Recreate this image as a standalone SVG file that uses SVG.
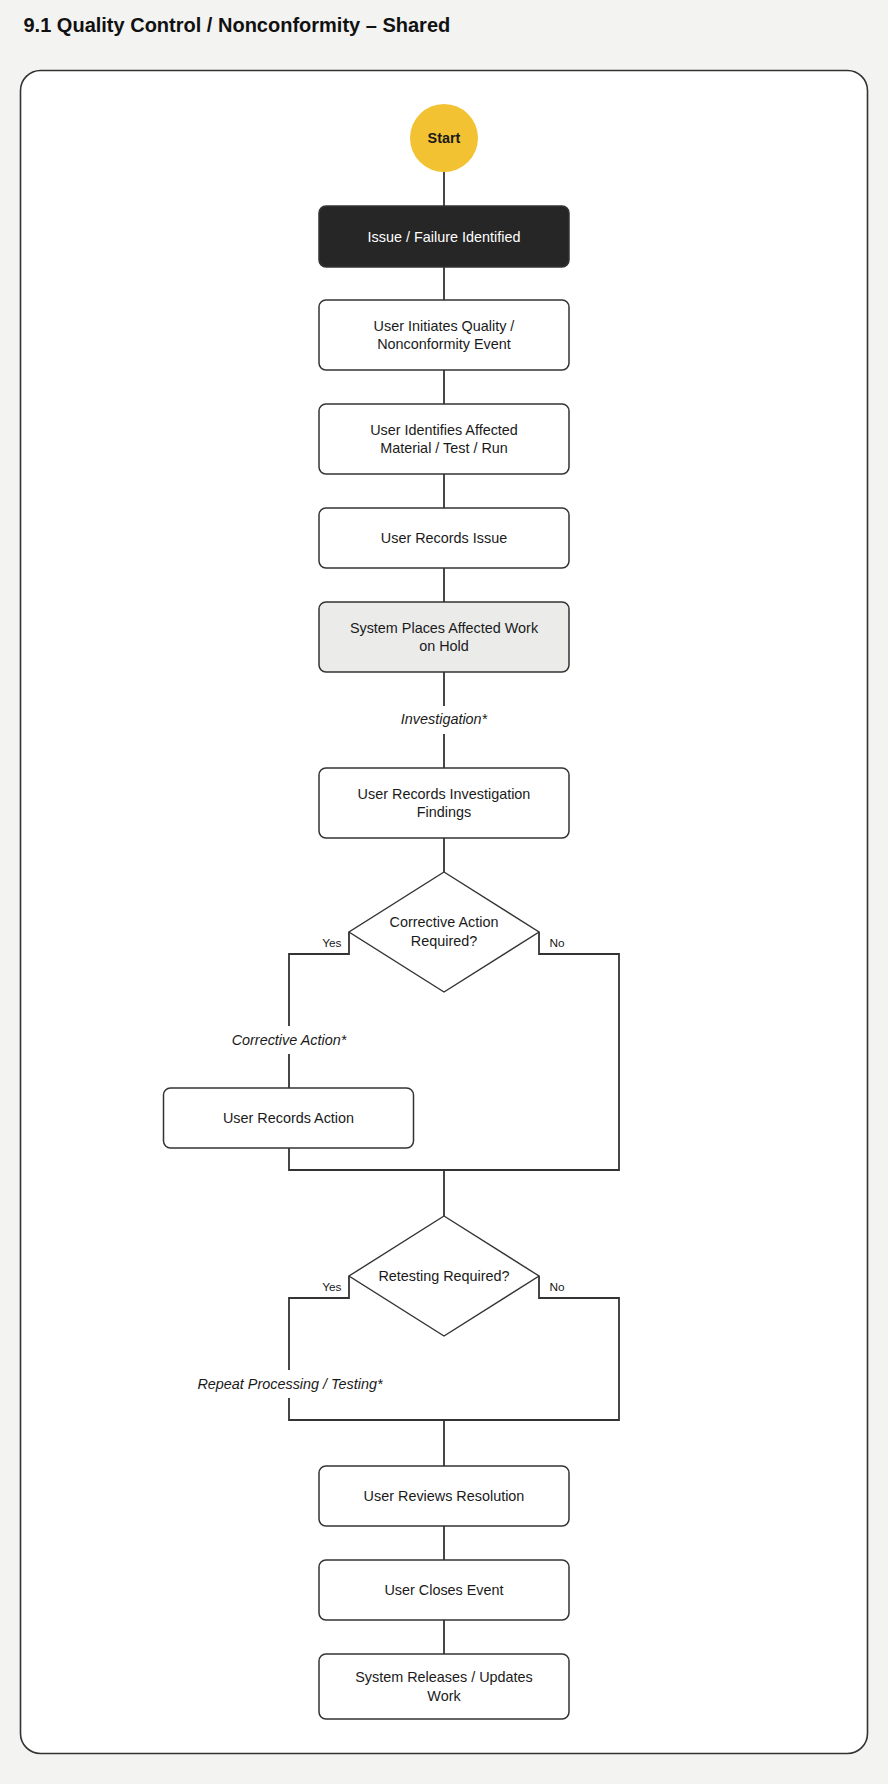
<svg xmlns="http://www.w3.org/2000/svg" width="888" height="1784" viewBox="0 0 888 1784">
<style>
.bg{fill:#f3f3f1}
.frame{fill:#ffffff;stroke:#333333;stroke-width:1.6}
.box{fill:#ffffff;stroke:#333333;stroke-width:1.5}
.dark{fill:#262626;stroke:#333333;stroke-width:1.5}
.gray{fill:#ebebea;stroke:#333333;stroke-width:1.5}
.dia{fill:#ffffff;stroke:#333333;stroke-width:1.4}
.start{fill:#f2c232}
.t{font-family:"Liberation Sans",Arial,Helvetica,sans-serif;font-size:14.4px;fill:#1a1a1a;text-anchor:middle}
.tw{fill:#ffffff}
.tb{font-weight:bold}
.it{font-style:italic}
.sm{font-family:"Liberation Sans",Arial,Helvetica,sans-serif;font-size:11.8px;fill:#1a1a1a}
.title{font-family:"Liberation Sans",Arial,Helvetica,sans-serif;font-size:20px;font-weight:bold;fill:#111111}
.c{fill:none;stroke:#333333;stroke-width:1.8}
</style>
<rect class="bg" x="0" y="0" width="888" height="1784"/>
<text class="title" x="23.5" y="32">9.1 Quality Control / Nonconformity – Shared</text>
<rect class="frame" x="20.5" y="70.5" width="847" height="1683" rx="20"/>

<g id="connectors">
<path class="c" d="M444,172 V206"/>
<path class="c" d="M444,267 V300"/>
<path class="c" d="M444,370 V404"/>
<path class="c" d="M444,474 V508"/>
<path class="c" d="M444,568 V602"/>
<path class="c" d="M444,672 V706"/>
<path class="c" d="M444,734 V768"/>
<path class="c" d="M444,838 V872"/>
<path class="c" d="M349,932 V954 H289 V1026"/>
<path class="c" d="M289,1054 V1088"/>
<path class="c" d="M289,1148 V1170 H619 V954 H539 V932"/>
<path class="c" d="M444,1170 V1216"/>
<path class="c" d="M349,1276 V1298 H289 V1370"/>
<path class="c" d="M289,1398 V1420 H619 V1298 H539 V1276"/>
<path class="c" d="M444,1420 V1466"/>
<path class="c" d="M444,1526 V1560"/>
<path class="c" d="M444,1620 V1654"/>
<text class="t it" x="444" y="724">Investigation*</text>
<text class="t it" x="289" y="1044.5">Corrective Action*</text>
<text class="t it" x="290" y="1388.5">Repeat Processing / Testing*</text>
<text class="sm" x="341.5" y="946.5" text-anchor="end">Yes</text>
<text class="sm" x="549.5" y="946.5">No</text>
<text class="sm" x="341.5" y="1290.5" text-anchor="end">Yes</text>
<text class="sm" x="549.5" y="1290.5">No</text>
</g>

<g id="start">
<circle class="start" cx="444" cy="138" r="34"/>
<text class="t tb" x="444" y="143">Start</text>
</g>
<g id="issue-identified">
<rect class="dark" x="319" y="206" width="250" height="61" rx="7"/>
<text class="t tw" x="444" y="241.5">Issue / Failure Identified</text>
</g>
<g id="initiates-event">
<rect class="box" x="319" y="300" width="250" height="70" rx="7"/>
<text class="t" x="444" y="330.8">User Initiates Quality /</text>
<text class="t" x="444" y="349.2">Nonconformity Event</text>
</g>
<g id="identifies-affected">
<rect class="box" x="319" y="404" width="250" height="70" rx="7"/>
<text class="t" x="444" y="434.8">User Identifies Affected</text>
<text class="t" x="444" y="453.2">Material / Test / Run</text>
</g>
<g id="records-issue">
<rect class="box" x="319" y="508" width="250" height="60" rx="7"/>
<text class="t" x="444" y="543">User Records Issue</text>
</g>
<g id="places-on-hold">
<rect class="gray" x="319" y="602" width="250" height="70" rx="7"/>
<text class="t" x="444" y="632.8">System Places Affected Work</text>
<text class="t" x="444" y="651.2">on Hold</text>
</g>
<g id="investigation-findings">
<rect class="box" x="319" y="768" width="250" height="70" rx="7"/>
<text class="t" x="444" y="798.8">User Records Investigation</text>
<text class="t" x="444" y="817.2">Findings</text>
</g>
<g id="corrective-decision">
<polygon class="dia" points="444,872 539,932 444,992 349,932"/>
<text class="t" x="444" y="927.3">Corrective Action</text>
<text class="t" x="444" y="945.7">Required?</text>
</g>
<g id="records-action">
<rect class="box" x="163.5" y="1088" width="250" height="60" rx="7"/>
<text class="t" x="288.5" y="1123">User Records Action</text>
</g>
<g id="retesting-decision">
<polygon class="dia" points="444,1216 539,1276 444,1336 349,1276"/>
<text class="t" x="444" y="1281">Retesting Required?</text>
</g>
<g id="reviews-resolution">
<rect class="box" x="319" y="1466" width="250" height="60" rx="7"/>
<text class="t" x="444" y="1501">User Reviews Resolution</text>
</g>
<g id="closes-event">
<rect class="box" x="319" y="1560" width="250" height="60" rx="7"/>
<text class="t" x="444" y="1595">User Closes Event</text>
</g>
<g id="releases-work">
<rect class="box" x="319" y="1654" width="250" height="65" rx="7"/>
<text class="t" x="444" y="1682.3">System Releases / Updates</text>
<text class="t" x="444" y="1700.7">Work</text>
</g>
</svg>
